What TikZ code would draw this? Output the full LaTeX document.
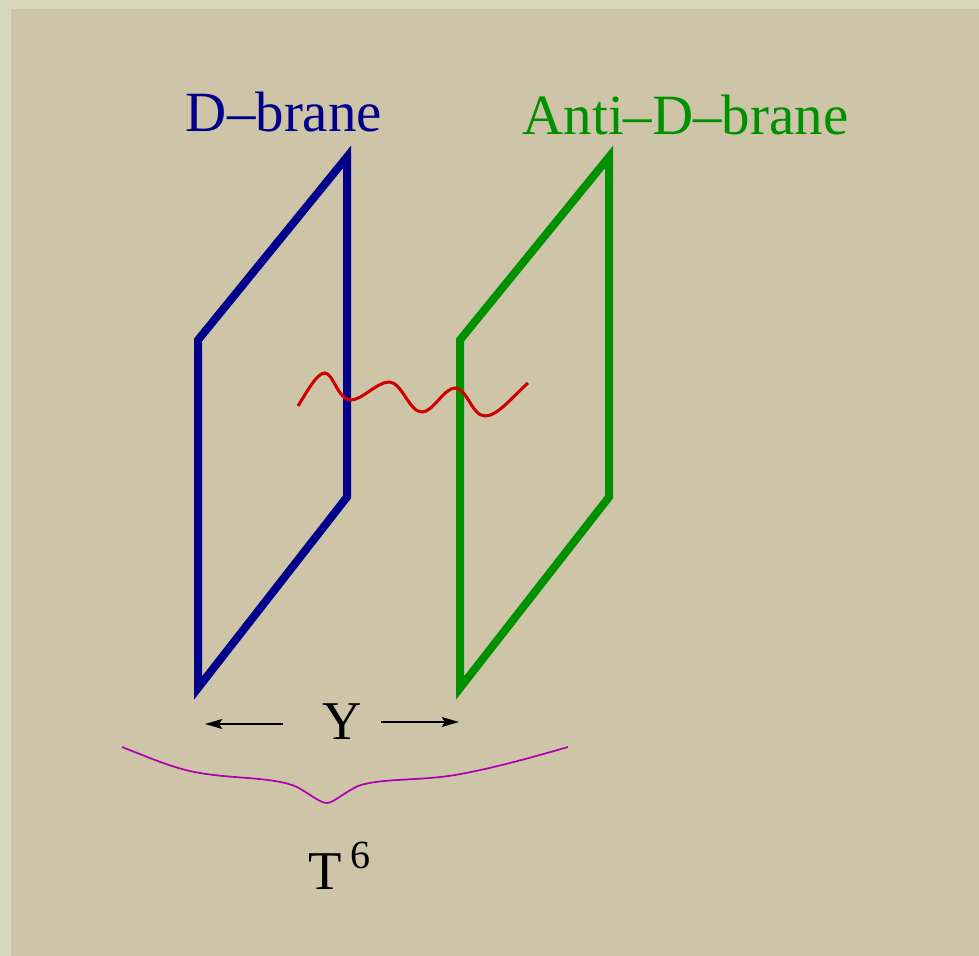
\documentclass[tikz,border=0pt]{standalone}
\usepackage{fontspec}
\setmainfont{Liberation Serif}
\usetikzlibrary{arrows.meta}
\definecolor{cpanel}{HTML}{CEC5A8}
\definecolor{cedge}{HTML}{D6D8BC}
\definecolor{cblue}{HTML}{00008B}
\definecolor{cgreen}{HTML}{009100}
\definecolor{cred}{HTML}{D00000}
\definecolor{cmagenta}{HTML}{B000B0}
\tikzset{
  every picture/.style={x=0.75pt, y=-0.75pt},
  brane/.style={draw=#1, line width=6pt, miter limit=20, line join=miter},
  label/.style={font=\fontsize{#1}{#1}\selectfont, inner sep=0pt, anchor=base},
  arrow/.style={-{Stealth[length=13pt, width=7.5pt, inset=2.5pt]}, draw=black, line width=1.2pt},
}

\begin{document}
\begin{tikzpicture}
  \fill[cedge] (0,0) rectangle (979,956);
  \fill[cpanel] (11,9) rectangle (979,956);
  \useasboundingbox (0,0) rectangle (979,956);
  % branes
  \draw[brane=cblue]  (198,688) -- (198,340) -- (347,157) -- (347,497) -- cycle;
  \draw[brane=cgreen] (460,688) -- (460,340) -- (609,157) -- (609,497) -- cycle;
  \node[label=42.7, text=cblue]  (dbrane) at (284,132) {D–brane};
  \node[label=42.7, text=cgreen] (anti)   at (685.5,135) {Anti–D–brane};
  % string
  \draw[cred, line width=2.3pt] (298,406) .. controls (308,390) and (317,373) .. (325,373)
    .. controls (333,373) and (338,400) .. (351,400)
    .. controls (362,400) and (377,382) .. (389,382)
    .. controls (402,382) and (409,412) .. (422,412)
    .. controls (433,412) and (444,388) .. (455,388)
    .. controls (467,388) and (472,416) .. (485,416)
    .. controls (498,416) and (513,396) .. (528,383);
  % separation
  \node[label=41] (y) at (342,739) {Y};
  \coordinate (yl) at (283,724);
  \coordinate (yr) at (381,722);
  \coordinate (dl) at (205,724);
  \coordinate (dr) at (459,722);
  \draw[arrow] (yl) -- (dl);
  \draw[arrow] (yr) -- (dr);
  % brace
  \draw[cmagenta, line width=1.3pt] (122,747) .. controls (150,758) and (175,769) .. (200,773)
    .. controls (235,779) and (275,777) .. (297,787)
    .. controls (310,794) and (320,803) .. (327,803)
    .. controls (333,803) and (345,792) .. (358,786)
    .. controls (380,778) and (420,781) .. (455,775)
    .. controls (490,769) and (530,758) .. (568,747);
  \node[label=41] (t) at (325,889) {T};
  \node[label=30] (six) at (360,868) {6};
\end{tikzpicture}
\end{document}
